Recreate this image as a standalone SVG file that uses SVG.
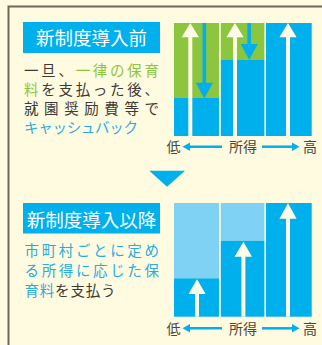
<svg xmlns="http://www.w3.org/2000/svg" width="322" height="345" viewBox="0 0 322 345">
<defs>
<style>
.bg{fill:#fefbe0}
.frame{fill:none;stroke:#6e685b;stroke-width:2}
.lbl{fill:#00b0ec}
.lbltxt{font-family:"Noto Sans CJK JP","Noto Sans",sans-serif;font-size:18.5px;fill:#ffffff;text-anchor:middle}
.body{font-family:"Noto Sans CJK JP","Noto Sans",sans-serif;font-size:14.5px;fill:#3c3a36}
.g{fill:#8cc63f}
.b{fill:#29abe2}
.blue{fill:#00b0ec}
.green{fill:#8cc63f}
.light{fill:#80d2f5}
.wht{fill:#fffce8}
.axis{font-family:"Noto Sans CJK JP","Noto Sans",sans-serif;font-size:14px;fill:#4a4740;text-anchor:middle}
.aline{stroke:#00b0ec;stroke-width:2.5;fill:none}
</style>
</defs>
<rect class="bg" x="0" y="0" width="322" height="345"/>
<path class="frame" d="M8.5,345 V6.5 H322"/>

<g id="label-before">
<rect class="lbl" x="23" y="22" width="137" height="31"/>
<text class="lbltxt" x="91.5" y="44.5">新制度導入前</text>
</g>
<g id="text-before" class="body">
<text x="24" y="75.5" textLength="135" lengthAdjust="spacing">一旦、<tspan class="g">一律の保育</tspan></text>
<text x="24" y="94.5" textLength="135" lengthAdjust="spacing"><tspan class="g">料</tspan>を支払った後、</text>
<text x="24" y="113.5" textLength="135" lengthAdjust="spacing">就園奨励費等で</text>
<text x="24" y="132.5" class="b" textLength="114" lengthAdjust="spacing">キャッシュバック</text>
</g>

<g id="chart-before">
<rect class="green" x="174" y="23" width="45" height="75"/>
<rect class="blue" x="174" y="98" width="45" height="38"/>
<rect class="green" x="220.8" y="23" width="43.6" height="37"/>
<rect class="blue" x="220.8" y="60" width="43.6" height="76"/>
<rect class="blue" x="266" y="23" width="45.7" height="113"/>
<rect class="wht" x="188.3" y="36" width="4" height="100"/>
<polygon class="wht" points="181.7,37.3 198.9,37.3 190.3,23"/>
<rect class="blue" x="202.5" y="23" width="3.6" height="60"/>
<polygon class="blue" points="195.8,82.7 213,82.7 204.3,98.5"/>
<rect class="wht" x="233" y="36" width="4" height="100"/>
<polygon class="wht" points="226.4,37.3 243.6,37.3 235,23"/>
<rect class="blue" x="247.4" y="23" width="3.6" height="22"/>
<polygon class="blue" points="240.8,44 257.8,44 249.2,60"/>
<rect class="wht" x="286" y="36" width="4" height="100"/>
<polygon class="wht" points="279.4,37.3 296.6,37.3 288,23"/>
</g>
<g id="axis-before">
<text class="axis" x="173.5" y="152">低</text>
<text class="axis" x="243" y="152">所得</text>
<text class="axis" x="310" y="152">高</text>
</g>

<g id="down-triangle">
<polygon class="blue" points="149.3,170.7 185,170.7 167,186.7"/>
</g>

<g id="label-after">
<rect class="lbl" x="23" y="203" width="137" height="30.5"/>
<text class="lbltxt" x="91.5" y="227">新制度導入以降</text>
</g>
<g id="text-after" class="body">
<text x="24.5" y="255.5" class="b" textLength="134.5" lengthAdjust="spacing">市町村ごとに定め</text>
<text x="24.5" y="276" class="b" textLength="134.5" lengthAdjust="spacing">る所得に応じた保</text>
<text x="24.5" y="296" textLength="91" lengthAdjust="spacing"><tspan class="b">育料</tspan>を支払う</text>
</g>

<g id="chart-after">
<rect class="light" x="174" y="203" width="45" height="75.3"/>
<rect class="blue" x="174" y="278.3" width="45" height="38.4"/>
<rect class="light" x="220.8" y="203" width="43.6" height="37.7"/>
<rect class="blue" x="220.8" y="240.7" width="43.6" height="76"/>
<rect class="blue" x="266" y="203" width="45.7" height="113.7"/>
<rect class="wht" x="195" y="293" width="4" height="23.7"/>
<polygon class="wht" points="188.6,294 205.6,294 197,279.3"/>
<rect class="wht" x="241.4" y="256" width="4" height="60.7"/>
<polygon class="wht" points="234.6,256.7 252,256.7 243.4,241.7"/>
<rect class="wht" x="286" y="218" width="4" height="98.7"/>
<polygon class="wht" points="279.4,218.7 296.6,218.7 288,203.3"/>
</g>
<g id="axis-after">
<text class="axis" x="173.5" y="333.6">低</text>
<text class="axis" x="243" y="333.6">所得</text>
<text class="axis" x="310" y="333.6">高</text>
</g>

<g id="connectors">
<line class="aline" x1="188" y1="146.7" x2="222" y2="146.7"/>
<polygon class="blue" points="182.5,146.7 190,142.5 190,150.9"/>
<line class="aline" x1="262" y1="146.7" x2="294" y2="146.7"/>
<polygon class="blue" points="299.5,146.7 292,142.5 292,150.9"/>
<line class="aline" x1="188" y1="328.3" x2="222" y2="328.3"/>
<polygon class="blue" points="182.5,328.3 190,324.1 190,332.5"/>
<line class="aline" x1="262" y1="328.3" x2="294" y2="328.3"/>
<polygon class="blue" points="299.5,328.3 292,324.1 292,332.5"/>
</g>
</svg>
